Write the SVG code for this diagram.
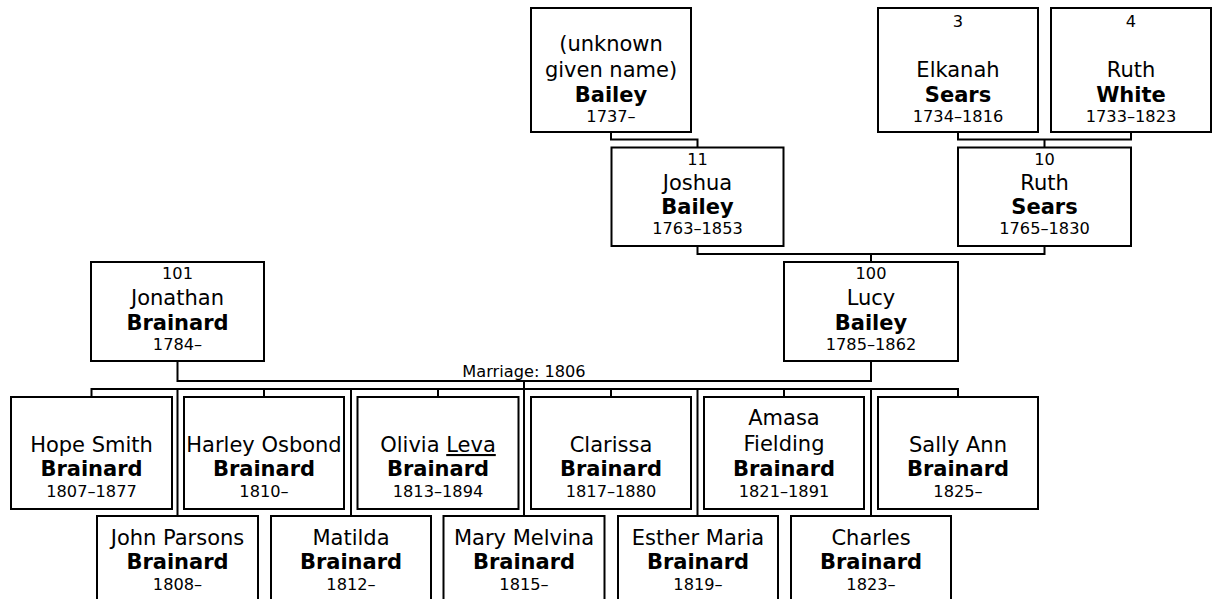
<svg xmlns="http://www.w3.org/2000/svg" width="1216" height="599" viewBox="0 0 1216 599">
<style>
.box{fill:#fff;stroke:#000;stroke-width:2}
.ln{fill:none;stroke:#000;stroke-width:2}
text{font-family:"DejaVu Sans",Verdana,sans-serif;fill:#000;text-anchor:middle}
.nm{font-size:21px}
.sn{font-size:21px;font-weight:bold}
.sm{font-size:16.2px}
</style>
<rect width="1216" height="599" fill="#fff"/>
<g id="connectors">
<path class="ln" d="M611 132V139.5H697.5V147.5"/>
<path class="ln" d="M958 132V139.5H1131V132M1044.5 139.5V147.5"/>
<path class="ln" d="M697.5 246V254H1044.5V246M871 254V262"/>
<path class="ln" d="M177.5 361V381H871V361M524 381V516"/>
<path class="ln" d="M91.5 397V389H958V397"/>
<path class="ln" d="M264 389V397M438 389V397M611 389V397M784 389V397"/>
<path class="ln" d="M177.5 389V516M351 389V516M697.5 389V516M871 389V516"/>
<text class="sm" x="524" y="377">Marriage: 1806</text>
</g>
<g id="n_bailey_unknown">
<rect class="box" x="531" y="8" width="160" height="124"/>
<text class="nm" x="611" y="51">(unknown</text>
<text class="nm" x="611" y="76.5">given name)</text>
<text class="sn" x="611" y="101.5">Bailey</text>
<text class="sm" x="611" y="122">1737–</text>
</g>
<g id="n3">
<rect class="box" x="878" y="8" width="160" height="124"/>
<text class="sm" x="958" y="26.5">3</text>
<text class="nm" x="958" y="77">Elkanah</text>
<text class="sn" x="958" y="101.5">Sears</text>
<text class="sm" x="958" y="122">1734–1816</text>
</g>
<g id="n4">
<rect class="box" x="1051" y="8" width="160" height="124"/>
<text class="sm" x="1131" y="26.5">4</text>
<text class="nm" x="1131" y="77">Ruth</text>
<text class="sn" x="1131" y="101.5">White</text>
<text class="sm" x="1131" y="122">1733–1823</text>
</g>
<g id="n11">
<rect class="box" x="611.5" y="147.5" width="172" height="98.5"/>
<text class="sm" x="697.5" y="165">11</text>
<text class="nm" x="697.5" y="190">Joshua</text>
<text class="sn" x="697.5" y="214">Bailey</text>
<text class="sm" x="697.5" y="234">1763–1853</text>
</g>
<g id="n10">
<rect class="box" x="958" y="147.5" width="173" height="98.5"/>
<text class="sm" x="1044.5" y="165">10</text>
<text class="nm" x="1044.5" y="190">Ruth</text>
<text class="sn" x="1044.5" y="214">Sears</text>
<text class="sm" x="1044.5" y="234">1765–1830</text>
</g>
<g id="n101">
<rect class="box" x="91" y="262" width="173" height="99"/>
<text class="sm" x="177.5" y="279">101</text>
<text class="nm" x="177.5" y="304.5">Jonathan</text>
<text class="sn" x="177.5" y="329.5">Brainard</text>
<text class="sm" x="177.5" y="350">1784–</text>
</g>
<g id="n100">
<rect class="box" x="784" y="262" width="174" height="99"/>
<text class="sm" x="871" y="279">100</text>
<text class="nm" x="871" y="304.5">Lucy</text>
<text class="sn" x="871" y="329.5">Bailey</text>
<text class="sm" x="871" y="350">1785–1862</text>
</g>
<g id="c_hope">
<rect class="box" x="11" y="397" width="161" height="112"/>
<text class="nm" x="91.5" y="452">Hope Smith</text>
<text class="sn" x="91.5" y="476">Brainard</text>
<text class="sm" x="91.5" y="497">1807–1877</text>
</g>
<g id="c_harley">
<rect class="box" x="184" y="397" width="160" height="112"/>
<text class="nm" x="264" y="452">Harley Osbond</text>
<text class="sn" x="264" y="476">Brainard</text>
<text class="sm" x="264" y="497">1810–</text>
</g>
<g id="c_olivia">
<rect class="box" x="357.5" y="397" width="161" height="112"/>
<text class="nm" x="438" y="452">Olivia <tspan text-decoration="underline">Leva</tspan></text>
<text class="sn" x="438" y="476">Brainard</text>
<text class="sm" x="438" y="497">1813–1894</text>
</g>
<g id="c_clarissa">
<rect class="box" x="531" y="397" width="160" height="112"/>
<text class="nm" x="611" y="452">Clarissa</text>
<text class="sn" x="611" y="476">Brainard</text>
<text class="sm" x="611" y="497">1817–1880</text>
</g>
<g id="c_amasa">
<rect class="box" x="704" y="397" width="160" height="112"/>
<text class="nm" x="784" y="425">Amasa</text>
<text class="nm" x="784" y="451">Fielding</text>
<text class="sn" x="784" y="476">Brainard</text>
<text class="sm" x="784" y="497">1821–1891</text>
</g>
<g id="c_sally">
<rect class="box" x="878" y="397" width="160" height="112"/>
<text class="nm" x="958" y="452">Sally Ann</text>
<text class="sn" x="958" y="476">Brainard</text>
<text class="sm" x="958" y="497">1825–</text>
</g>
<g id="c_john">
<rect class="box" x="97" y="516" width="161" height="120"/>
<text class="nm" x="177.5" y="545">John Parsons</text>
<text class="sn" x="177.5" y="569">Brainard</text>
<text class="sm" x="177.5" y="590">1808–</text>
</g>
<g id="c_matilda">
<rect class="box" x="271" y="516" width="160" height="120"/>
<text class="nm" x="351" y="545">Matilda</text>
<text class="sn" x="351" y="569">Brainard</text>
<text class="sm" x="351" y="590">1812–</text>
</g>
<g id="c_mary">
<rect class="box" x="443.5" y="516" width="161" height="120"/>
<text class="nm" x="524" y="545">Mary Melvina</text>
<text class="sn" x="524" y="569">Brainard</text>
<text class="sm" x="524" y="590">1815–</text>
</g>
<g id="c_esther">
<rect class="box" x="618" y="516" width="160" height="120"/>
<text class="nm" x="698" y="545">Esther Maria</text>
<text class="sn" x="698" y="569">Brainard</text>
<text class="sm" x="698" y="590">1819–</text>
</g>
<g id="c_charles">
<rect class="box" x="791" y="516" width="160" height="120"/>
<text class="nm" x="871" y="545">Charles</text>
<text class="sn" x="871" y="569">Brainard</text>
<text class="sm" x="871" y="590">1823–</text>
</g>
</svg>
